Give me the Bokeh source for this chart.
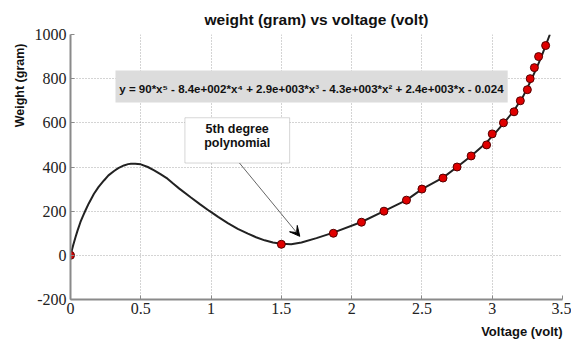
from bokeh.plotting import figure
from bokeh.models import (Label, BoxAnnotation, Arrow, VeeHead, FixedTicker, ColumnDataSource, Title,
                          PrintfTickFormatter)
from bokeh.embed import file_html
from bokeh.resources import INLINE

# measured data points
volt = [0, 1.5, 1.87, 2.07, 2.23, 2.39, 2.5, 2.65, 2.75, 2.85, 2.96, 3.0, 3.08, 3.155, 3.2, 3.25, 3.27, 3.3, 3.33, 3.38]
weight = [0, 50, 100, 150, 200, 250, 300, 350, 400, 450, 500, 550, 600, 650, 700, 750, 800, 850, 900, 950]

# 5th degree polynomial curve
fit_volt = [0, 0.005, 0.02, 0.036, 0.05, 0.071, 0.09, 0.107, 0.13, 0.167, 0.2, 0.238, 0.27, 0.31, 0.34,
            0.38, 0.41, 0.43, 0.46, 0.5, 0.55, 0.595, 0.64, 0.69, 0.73, 0.774, 0.857, 0.92,
            0.988, 1.05, 1.119, 1.19, 1.262, 1.32, 1.381, 1.44, 1.5, 1.57, 1.643, 1.75, 1.87, 2.07,
            2.23, 2.39, 2.5, 2.65, 2.75, 2.85, 2.95, 3.03, 3.1, 3.16, 3.22, 3.27, 3.31, 3.35, 3.38, 3.41]
fit_weight = [0, 12, 48, 83, 112, 151, 180, 204, 235, 279, 310, 339, 362, 382, 395,
              407, 413, 415, 415, 412, 400, 385, 368, 347, 325, 302, 262, 232,
              201, 174, 146, 120, 98, 82, 68, 58, 52, 50, 58, 78, 103, 151,
              200, 250, 300, 352, 400, 450, 505, 560, 612, 660, 720, 785, 840, 900, 950, 1000]

x_ticks = [0, 0.5, 1, 1.5, 2, 2.5, 3, 3.5]
y_ticks = [-200, 0, 200, 400, 600, 800, 1000]

title_text = "weight (gram) vs voltage (volt)"
x_title = "Voltage (volt)"
y_title = "Weight (gram)"
equation_text = "y = 90*x\u2075 - 8.4e+002*x\u2074 + 2.9e+003*x\u00b3 - 4.3e+003*x\u00b2 + 2.4e+003*x - 0.024"

p = figure(width=571, height=356, x_range=(0, 3.5), y_range=(-200, 1000),
           output_backend="svg", toolbar_location=None,
           min_border_left=70, min_border_right=9, min_border_top=34, min_border_bottom=57)
p.title.text = title_text
p.title.align = "center"
p.title.standoff = 13
p.title.text_font = "Liberation Sans"
p.title.text_font_style = "bold"
p.title.text_font_size = "15.5px"
p.title.text_color = "#111111"
p.outline_line_color = None
p.background_fill_color = "white"
p.border_fill_color = "white"

for ax, ticks in ((p.xaxis[0], x_ticks), (p.yaxis[0], y_ticks)):
    ax.ticker = FixedTicker(ticks=ticks)
    ax.axis_line_color = "#8a8a8a"
    ax.axis_line_width = 2
    ax.major_tick_in = 4
    ax.major_tick_out = 0
    ax.major_tick_line_color = "#8a8a8a"
    ax.minor_tick_line_color = None
    ax.major_label_text_font = "Liberation Serif"
    ax.major_label_text_font_size = "16px"
    ax.major_label_text_color = "#222222"
p.yaxis[0].formatter = PrintfTickFormatter(format="%d")
p.yaxis[0].major_label_standoff = 4
p.xaxis[0].major_label_standoff = 3

for g in (p.xgrid[0], p.ygrid[0]):
    g.grid_line_color = "#a8a8a8"
    g.grid_line_dash = "1 2"
    g.grid_line_width = 1

# equation box
p.add_layout(BoxAnnotation(left=0.32, right=3.11, bottom=692, top=837,
                           fill_color="#dcdcdc", fill_alpha=1, line_color=None))
p.add_layout(Label(x=1.714, y=752, text=equation_text, text_align="center", text_baseline="middle",
                   text_font="Liberation Sans", text_font_style="bold", text_font_size="11.5px",
                   text_color="#111111"))

# annotation box
p.add_layout(BoxAnnotation(left=0.814, right=1.559, bottom=418, top=623,
                           fill_color="white", fill_alpha=1, line_color="#777777", line_width=1))
p.add_layout(Label(x=1.186, y=574, text="5th degree", text_align="center", text_baseline="middle",
                   text_font="Liberation Sans", text_font_style="bold", text_font_size="12.5px",
                   text_color="#111111"))
p.add_layout(Label(x=1.186, y=507, text="polynomial", text_align="center", text_baseline="middle",
                   text_font="Liberation Sans", text_font_style="bold", text_font_size="12.5px",
                   text_color="#111111"))
p.add_layout(Arrow(x_start=1.202, y_start=418, x_end=1.631, y_end=86,
                   line_color="#666666", line_width=1,
                   end=VeeHead(size=10, fill_color="black", line_color="black")))

p.line(fit_volt, fit_weight, line_color="#222222", line_width=2)
src = ColumnDataSource(dict(v=volt, w=weight))
p.scatter("v", "w", source=src, size=8, fill_color="#e00000", line_color="#550000", line_width=1)

# axis titles
p.add_layout(Title(text=y_title, align="right", offset=9, text_font="Liberation Sans",
                   text_font_style="bold", text_font_size="12.5px", text_color="#111111"), "left")
p.add_layout(Title(text=x_title, align="right", text_font="Liberation Sans",
                   text_font_style="bold", text_font_size="13px", text_color="#111111"), "below")

open("out.html", "w").write(file_html(p, INLINE))
